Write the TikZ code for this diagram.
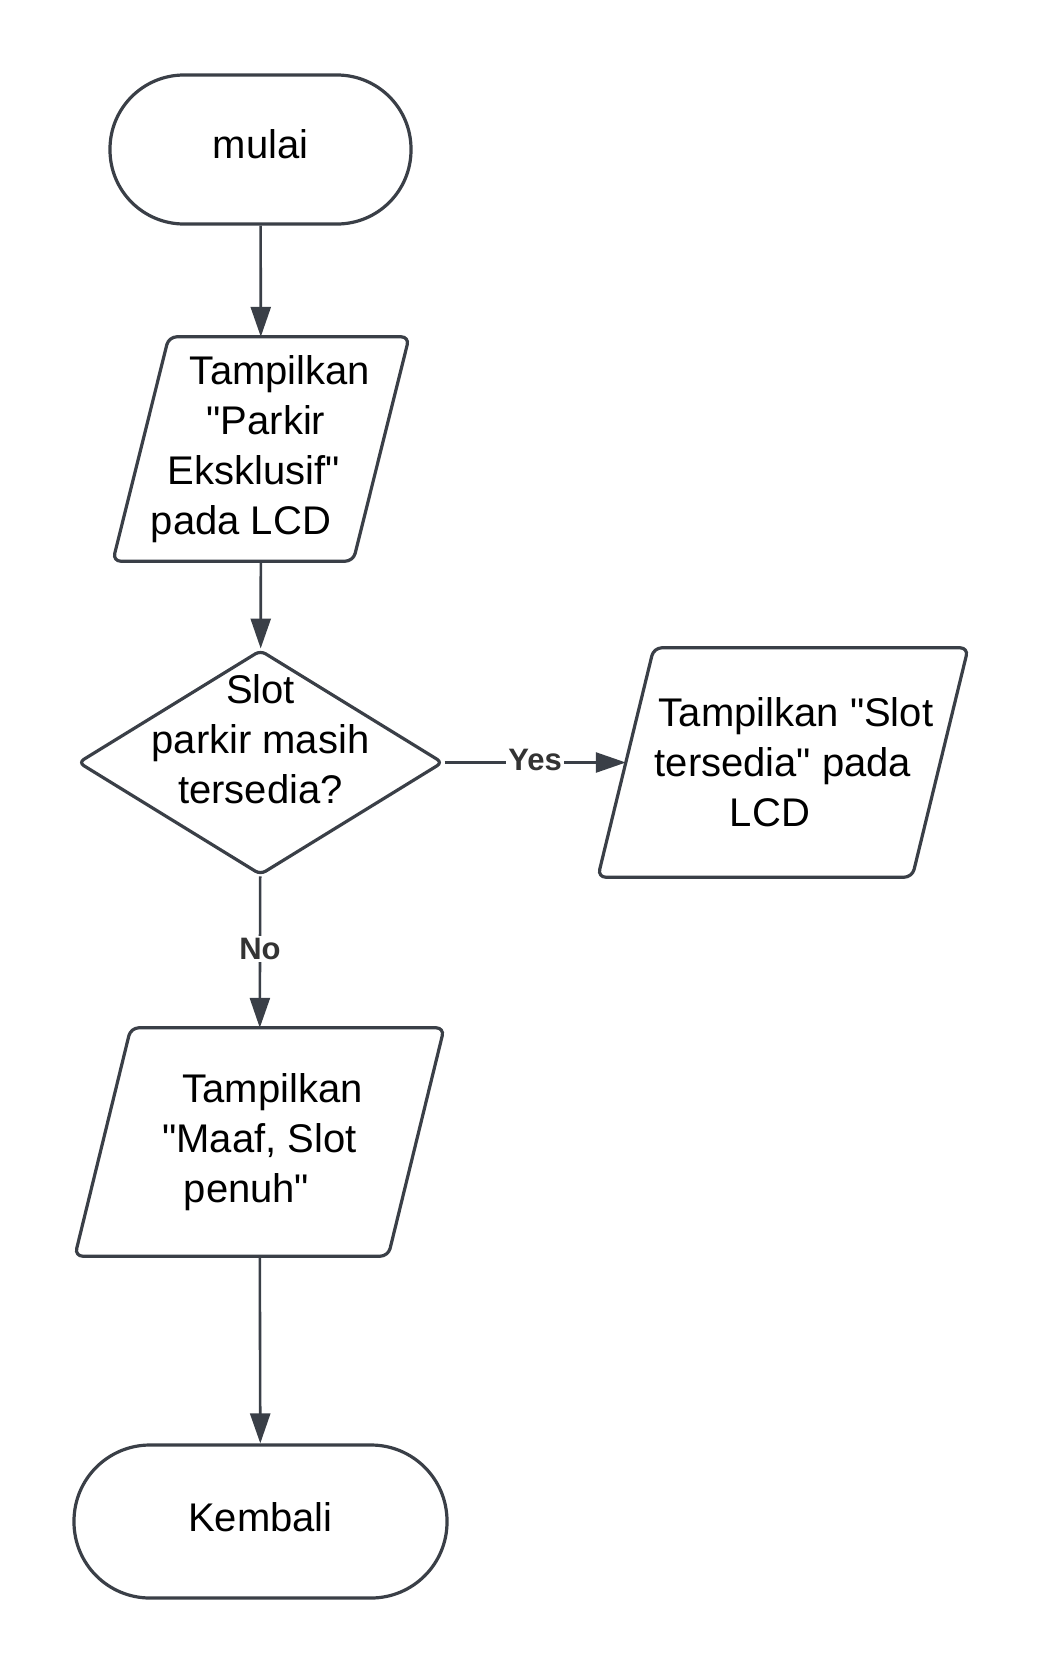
\documentclass[tikz,border=0pt]{standalone}
\usepackage{fontspec}
\setmainfont{Liberation Sans}[Ligatures=TeXOff]
\usepackage{xcolor}
\usepackage{tikz}
\usetikzlibrary{shapes,arrows}
\usetikzlibrary{arrows.meta}
\usetikzlibrary{shapes.geometric}
\definecolor{garis}{HTML}{3A3F47}
\definecolor{teksket}{HTML}{333333}
\newcommand{\geser}[2]{\hbox{\kern#1\relax#2\kern-#1\relax}}

\begin{document}
\begin{tikzpicture}[x=1pt,y=-1pt,
        terminal/.style={rectangle,draw=garis,line width=3.2pt,minimum width=301pt,minimum height=149pt,rounded corners=74pt,text depth=10pt,font=\fontsize{40}{50}\selectfont},
        io/.style={rectangle,inner sep=0pt,align=center,font=\fontsize{40}{50}\selectfont},
        bentuk/.style={draw=garis,line width=3.2pt,rounded corners=8pt},
        keputusan/.style={diamond,draw=garis,line width=3.2pt,rounded corners=6pt,inner sep=0pt,minimum width=365pt,minimum height=225pt},
        panah/.style={draw=garis,line width=2.6pt,-{Triangle[length=30pt,width=20pt]}},
        ket/.style={fill=white,text=teksket,inner sep=2pt,yshift=3pt,font=\fontsize{31}{31}\bfseries\selectfont}]
        \useasboundingbox (0,0) rectangle (1046,1674);
        % simbol
        \node[terminal] (mulai) at (260.5,149.5) {mulai};
        \node[io,minimum width=240pt,minimum height=224pt] (lcd) at (261,449)
            {\geser{19pt}{Tampilkan}\\\geser{5pt}{"Parkir}\\\geser{-7pt}{Eksklusif"}\\\geser{-20pt}{pada LCD}};
        \node[keputusan,label={[yshift=23pt,align=center,font=\fontsize{40}{50}\selectfont]center:Slot\\parkir masih\\tersedia?}] (cek) at (260.5,762.5) {};
        \node[io,minimum width=314pt,minimum height=229pt] (tersedia) at (783,762.5)
            {\geser{13pt}{Tampilkan "Slot}\\\geser{0pt}{tersedia" pada}\\\geser{-13pt}{LCD}};
        \node[io,minimum width=313pt,minimum height=228pt] (penuh) at (259.5,1142)
            {\geser{13pt}{Tampilkan}\\\geser{0pt}{"Maaf, Slot}\\\geser{-13pt}{penuh"}};
        \node[terminal,minimum width=373pt,minimum height=153pt,rounded corners=76pt] (kembali) at (260.5,1521.5) {Kembali};
        \foreach \n in {lcd,tersedia,penuh}
            \draw[bentuk] ([xshift=28pt]\n.north west) -- ([xshift=28pt]\n.north east) -- ([xshift=-28pt]\n.south east) -- ([xshift=-28pt]\n.south west) -- cycle;
        % alur
        \draw[panah] (mulai) -- (lcd);
        \draw[panah] (lcd) -- (cek);
        \draw[panah] (cek) -- node[ket] {Yes} (tersedia);
        \draw[panah] (cek) -- node[ket] {No} (penuh);
        \draw[panah] (penuh) -- (kembali);
    \end{tikzpicture}
\end{document}
